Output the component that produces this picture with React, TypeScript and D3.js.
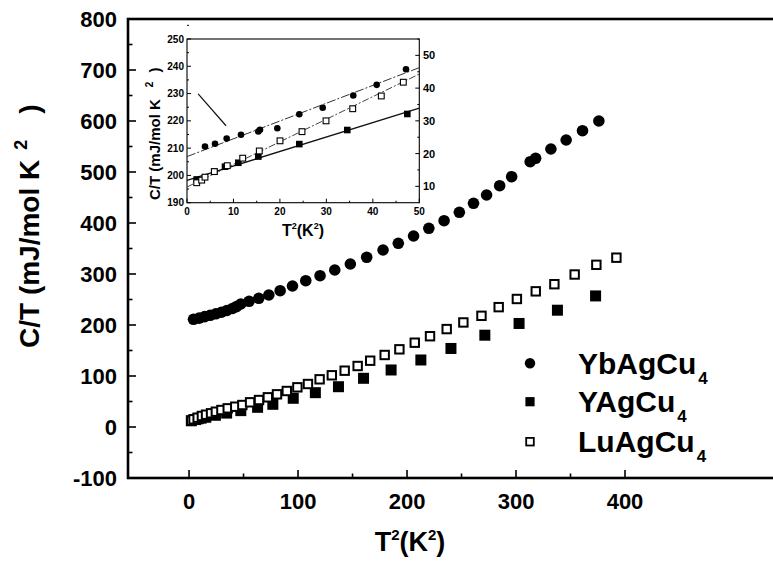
import * as d3 from 'd3';
import { useEffect, useRef } from 'react';

const W = 773;
const H = 569;
const FONT = '"Liberation Sans", Arial, Helvetica, sans-serif';

// main panel: C/T (mJ/mol K^2) against T^2 (K^2)
const YB_T2 = [4.1, 9.3, 14.4, 19.4, 24.6, 29.7, 34.8, 39.9, 43.5, 47.5, 55.1, 64.0, 73.2, 83.6, 94.9, 107.1, 120.2, 133.7, 148.0, 163.0, 178.0, 192.0, 206.0, 220.0, 234.0, 248.0, 261.0, 273.0, 285.0, 296.0, 313.0, 318.0, 332.0, 346.0, 361.0, 376.0];
const YB_CT = [211.2, 213.5, 216.5, 219.0, 222.0, 225.0, 228.5, 232.5, 236.0, 241.2, 246.5, 252.4, 258.8, 267.3, 276.5, 286.9, 296.7, 307.8, 319.6, 332.7, 347.1, 360.2, 374.5, 389.6, 404.5, 421.0, 438.6, 454.9, 473.1, 490.8, 520.2, 526.9, 545.1, 562.7, 581.0, 600.0];

const Y_T2 = [2.1, 6.0, 8.2, 11.1, 15.4, 24.2, 34.5, 47.5, 62.9, 76.9, 95.6, 115.9, 137.1, 160.1, 185.4, 212.7, 240.3, 271.4, 302.8, 338.0, 373.0];
const Y_CT = [12.2, 14.6, 16.1, 17.3, 19.1, 23.0, 27.3, 32.1, 38.6, 44.5, 56.3, 67.3, 79.0, 95.5, 111.8, 131.4, 154.0, 180.0, 203.0, 229.0, 257.0];

const LU_T2 = [2.0, 4.1, 7.9, 11.8, 15.6, 20.2, 24.6, 29.7, 35.5, 42.4, 48.9, 56.0, 64.2, 72.3, 80.7, 89.7, 99.4, 109.1, 119.8, 131.0, 142.8, 154.7, 166.2, 179.5, 193.0, 207.1, 221.1, 236.4, 251.7, 268.3, 284.1, 300.8, 318.1, 335.2, 353.8, 373.7, 392.1];
const LU_CT = [12.4, 15.1, 18.2, 21.6, 24.1, 26.9, 30.0, 33.3, 36.6, 39.8, 43.1, 48.4, 52.9, 58.2, 64.1, 70.6, 77.8, 84.3, 93.5, 101.4, 110.4, 119.6, 130.0, 141.2, 152.3, 165.3, 178.0, 192.0, 205.0, 218.0, 235.0, 251.0, 266.0, 280.0, 299.0, 318.0, 332.0];

// inset: Yb on the left axis, Y and Lu on the right axis
const IN_YB_T2 = [3.87, 6.03, 8.54, 11.62, 15.35, 15.71, 19.44, 24.17, 29.21, 35.79, 40.83, 47.14];
const IN_YB_CT = [210.6, 211.6, 213.5, 214.9, 216.1, 216.7, 217.3, 222.4, 224.8, 229.3, 233.2, 238.9];
const IN_Y_T2 = [2.09, 5.88, 8.18, 11.04, 15.35, 24.17, 34.5, 47.42];
const IN_Y_CT = [12.1, 14.5, 16.0, 17.2, 19.1, 22.9, 27.2, 32.1];
const IN_LU_T2 = [2.09, 3.16, 3.87, 5.88, 8.67, 11.99, 15.56, 20.02, 24.75, 29.92, 35.67, 41.82, 46.56];
const IN_LU_CT = [11.1, 11.9, 12.8, 14.5, 16.3, 18.6, 20.8, 23.9, 26.7, 30.0, 33.7, 37.6, 41.8];

// straight-line fits in the inset (values at T^2 = 0 and 50)
const FIT_T2 = [0, 50];
const FIT_YB = [206.9, 239.5];
const FIT_Y = [11.8, 33.9];
const FIT_LU = [9.8, 44.3];
// short pointer line in the inset (left-axis units)
const POINTER_T2 = [2.4, 8.4];
const POINTER_CT = [229.9, 218.2];

const X_TICKS = [0, 100, 200, 300, 400];
const X_MINOR = [50, 150, 250, 350];
const Y_TICKS = [-100, 0, 100, 200, 300, 400, 500, 600, 700, 800];
const Y_MINOR = [-50, 50, 150, 250, 350, 450, 550, 650, 750];
const IN_X_TICKS = [0, 10, 20, 30, 40, 50];
const IN_X_MINOR = [5, 15, 25, 35, 45];
const IN_YL_TICKS = [190, 200, 210, 220, 230, 240, 250];
const IN_YR_TICKS = [10, 20, 30, 40, 50];

const LEGEND_NAMES = ['YbAgCu', 'YAgCu', 'LuAgCu'];
const LEGEND_SUB = '4';

function zip(a: number[], b: number[]) {
    return a.map((v, i) => [v, b[i]] as [number, number]);
}

export default function App() {
    const svgRef = useRef<SVGSVGElement | null>(null);

    useEffect(() => {
        if (!svgRef.current) {
            return;
        }
        const svg = d3.select(svgRef.current);
        svg.selectAll('*').remove();

        // right edge of the frame lies outside the picture
        const x = d3.scaleLinear().domain([-56, 540]).range([128, 777.6]);
        const y = d3.scaleLinear().domain([-100, 800]).range([478, 19]);
        const x0 = x(-56);
        const x1 = x(540);

        svg.append('rect').attr('width', W).attr('height', H).attr('fill', '#fff');

        svg.append('rect')
            .attr('x', x0)
            .attr('y', y(800))
            .attr('width', x1 - x0)
            .attr('height', y(-100) - y(800))
            .attr('fill', 'none')
            .attr('stroke', '#000')
            .attr('stroke-width', 2.6);

        const ax = svg.append('g').attr('stroke', '#000').attr('stroke-width', 1.6);
        X_TICKS.forEach((t) => {
            ax.append('line').attr('x1', x(t)).attr('x2', x(t)).attr('y1', y(-100)).attr('y2', y(-100) - 8);
        });
        X_MINOR.forEach((t) => {
            ax.append('line').attr('x1', x(t)).attr('x2', x(t)).attr('y1', y(-100)).attr('y2', y(-100) - 4.5);
        });
        Y_TICKS.forEach((t) => {
            ax.append('line').attr('x1', x0).attr('x2', x0 + 8).attr('y1', y(t)).attr('y2', y(t));
        });
        Y_MINOR.forEach((t) => {
            ax.append('line').attr('x1', x0).attr('x2', x0 + 4.5).attr('y1', y(t)).attr('y2', y(t));
        });

        const lab = svg.append('g')
            .attr('font-family', FONT)
            .attr('font-weight', 'bold')
            .attr('font-size', 22)
            .attr('fill', '#000');
        X_TICKS.forEach((t) => {
            lab.append('text').attr('x', x(t)).attr('y', 509).attr('text-anchor', 'middle').text(String(t));
        });
        Y_TICKS.forEach((t) => {
            lab.append('text')
                .attr('x', 117)
                .attr('y', y(t))
                .attr('dy', '0.36em')
                .attr('text-anchor', 'end')
                .text(String(t));
        });

        // axis titles
        const xt = svg.append('text')
            .attr('x', 410)
            .attr('y', 551)
            .attr('text-anchor', 'middle')
            .attr('font-family', FONT)
            .attr('font-weight', 'bold')
            .attr('font-size', 27);
        xt.append('tspan').text('T');
        xt.append('tspan').attr('dy', -11).attr('font-size', 15).text('2');
        xt.append('tspan').attr('dy', 11).text('(K');
        xt.append('tspan').attr('dy', -11).attr('font-size', 15).text('2');
        xt.append('tspan').attr('dy', 11).text(')');

        const yt = svg.append('text')
            .attr('transform', 'translate(38.5,348) rotate(-90)')
            .attr('font-family', FONT)
            .attr('font-weight', 'bold')
            .attr('font-size', 28);
        yt.append('tspan').text('C/T (mJ/mol K');
        yt.append('tspan').attr('dx', 10).attr('dy', -12).attr('font-size', 18).text('2');
        yt.append('tspan').attr('dx', 26).attr('dy', 12).text(')');

        // main data: filled squares, then open squares, then circles
        const sq = 11;
        svg.append('g')
            .selectAll('rect')
            .data(zip(Y_T2, Y_CT))
            .join('rect')
            .attr('x', (d) => x(d[0]) - sq / 2)
            .attr('y', (d) => y(d[1]) - sq / 2)
            .attr('width', sq)
            .attr('height', sq)
            .attr('fill', '#000');

        svg.append('g')
            .selectAll('rect')
            .data(zip(LU_T2, LU_CT))
            .join('rect')
            .attr('x', (d) => x(d[0]) - 4.2)
            .attr('y', (d) => y(d[1]) - 4.2)
            .attr('width', 8.4)
            .attr('height', 8.4)
            .attr('fill', '#fff')
            .attr('stroke', '#000')
            .attr('stroke-width', 2);

        svg.append('g')
            .selectAll('circle')
            .data(zip(YB_T2, YB_CT))
            .join('circle')
            .attr('cx', (d) => x(d[0]))
            .attr('cy', (d) => y(d[1]))
            .attr('r', 5.8)
            .attr('fill', '#000');

        // legend
        const leg = svg.append('g');
        const rowsY = [363.3, 401.7, 441.7];
        const mx = 530;
        leg.append('circle').attr('cx', mx).attr('cy', rowsY[0]).attr('r', 5.2).attr('fill', '#000');
        leg.append('rect').attr('x', mx - 4.6).attr('y', rowsY[1] - 4.6).attr('width', 9.2).attr('height', 9.2).attr('fill', '#000');
        leg.append('rect')
            .attr('x', mx - 3.8)
            .attr('y', rowsY[2] - 3.8)
            .attr('width', 7.6)
            .attr('height', 7.6)
            .attr('fill', '#fff')
            .attr('stroke', '#000')
            .attr('stroke-width', 1.8);
        LEGEND_NAMES.forEach((name, i) => {
            const t = leg.append('text')
                .attr('x', 578)
                .attr('y', rowsY[i] + 10.5)
                .attr('font-family', FONT)
                .attr('font-weight', 'bold')
                .attr('font-size', 30);
            t.append('tspan').text(name);
            t.append('tspan').attr('dx', 2).attr('dy', 10).attr('font-size', 17).text(LEGEND_SUB);
        });

        // inset
        const ix = d3.scaleLinear().domain([0, 50]).range([187, 419.3]);
        const iyl = d3.scaleLinear().domain([190, 250]).range([202.7, 39]);
        const iyr = d3.scaleLinear().domain([5, 55]).range([202.7, 39]);

        svg.append('rect')
            .attr('x', ix(0))
            .attr('y', iyl(250))
            .attr('width', ix(50) - ix(0))
            .attr('height', iyl(190) - iyl(250))
            .attr('fill', '#fff')
            .attr('stroke', '#000')
            .attr('stroke-width', 1.1);

        const it = svg.append('g').attr('stroke', '#000').attr('stroke-width', 1);
        IN_X_TICKS.forEach((t) => {
            it.append('line').attr('x1', ix(t)).attr('x2', ix(t)).attr('y1', iyl(190)).attr('y2', iyl(190) - 4);
        });
        IN_X_MINOR.forEach((t) => {
            it.append('line').attr('x1', ix(t)).attr('x2', ix(t)).attr('y1', iyl(190)).attr('y2', iyl(190) - 2);
        });
        IN_YL_TICKS.forEach((t) => {
            it.append('line').attr('x1', ix(0)).attr('x2', ix(0) + 4).attr('y1', iyl(t)).attr('y2', iyl(t));
            it.append('line').attr('x1', ix(0)).attr('x2', ix(0) + 2).attr('y1', iyl(t + 5)).attr('y2', iyl(t + 5));
        });
        IN_YR_TICKS.forEach((t) => {
            it.append('line').attr('x1', ix(50)).attr('x2', ix(50) - 4).attr('y1', iyr(t)).attr('y2', iyr(t));
            it.append('line').attr('x1', ix(50)).attr('x2', ix(50) - 2).attr('y1', iyr(t + 5)).attr('y2', iyr(t + 5));
        });

        const il = svg.append('g')
            .attr('font-family', FONT)
            .attr('font-weight', 'bold')
            .attr('fill', '#000');
        IN_X_TICKS.forEach((t) => {
            il.append('text').attr('x', ix(t)).attr('y', 215).attr('text-anchor', 'middle').attr('font-size', 10).text(String(t));
        });
        IN_YL_TICKS.forEach((t) => {
            il.append('text')
                .attr('x', 184)
                .attr('y', iyl(t))
                .attr('dy', '0.36em')
                .attr('text-anchor', 'end')
                .attr('font-size', 10)
                .text(String(t));
        });
        IN_YR_TICKS.forEach((t) => {
            il.append('text')
                .attr('x', 423)
                .attr('y', iyr(t))
                .attr('dy', '0.36em')
                .attr('font-size', 11)
                .text(String(t));
        });

        const ixt = svg.append('text')
            .attr('x', 303)
            .attr('y', 236)
            .attr('text-anchor', 'middle')
            .attr('font-family', FONT)
            .attr('font-weight', 'bold')
            .attr('font-size', 16);
        ixt.append('tspan').text('T');
        ixt.append('tspan').attr('dy', -7).attr('font-size', 9).text('2');
        ixt.append('tspan').attr('dy', 7).text('(K');
        ixt.append('tspan').attr('dy', -7).attr('font-size', 9).text('2');
        ixt.append('tspan').attr('dy', 7).text(')');

        const iyt = svg.append('text')
            .attr('transform', 'translate(159.5,200) rotate(-90)')
            .attr('font-family', FONT)
            .attr('font-weight', 'bold')
            .attr('font-size', 15);
        iyt.append('tspan').text('C/T (mJ/mol K');
        iyt.append('tspan').attr('dx', 12).attr('dy', -7).attr('font-size', 10).text('2');
        iyt.append('tspan').attr('dx', 9).attr('dy', 7).text(')');

        // fit lines
        const fitLine = (yScale: d3.ScaleLinear<number, number>, vals: number[]) =>
            d3.line<number>()
                .x((t) => ix(t))
                .y((_, i) => yScale(vals[i]))(FIT_T2);
        svg.append('path').attr('d', fitLine(iyl, FIT_YB)).attr('fill', 'none')
            .attr('stroke', '#333').attr('stroke-width', 1).attr('stroke-dasharray', '9,2,2,2');
        svg.append('path').attr('d', fitLine(iyr, FIT_LU)).attr('fill', 'none')
            .attr('stroke', '#444').attr('stroke-width', 1).attr('stroke-dasharray', '7,2,2,2');
        svg.append('path').attr('d', fitLine(iyr, FIT_Y)).attr('fill', 'none')
            .attr('stroke', '#111').attr('stroke-width', 1.4);

        svg.append('path')
            .attr('d', d3.line<number>().x((t) => ix(t)).y((_, i) => iyl(POINTER_CT[i]))(POINTER_T2))
            .attr('stroke', '#111')
            .attr('stroke-width', 1.2)
            .attr('fill', 'none');

        svg.append('g')
            .selectAll('rect')
            .data(zip(IN_Y_T2, IN_Y_CT))
            .join('rect')
            .attr('x', (d) => ix(d[0]) - 3.3)
            .attr('y', (d) => iyr(d[1]) - 3.3)
            .attr('width', 6.6)
            .attr('height', 6.6)
            .attr('fill', '#000');

        svg.append('g')
            .selectAll('rect')
            .data(zip(IN_LU_T2, IN_LU_CT))
            .join('rect')
            .attr('x', (d) => ix(d[0]) - 2.9)
            .attr('y', (d) => iyr(d[1]) - 2.9)
            .attr('width', 5.8)
            .attr('height', 5.8)
            .attr('fill', '#fff')
            .attr('stroke', '#000')
            .attr('stroke-width', 1.1);

        svg.append('g')
            .selectAll('circle')
            .data(zip(IN_YB_T2, IN_YB_CT))
            .join('circle')
            .attr('cx', (d) => ix(d[0]))
            .attr('cy', (d) => iyl(d[1]))
            .attr('r', 3.3)
            .attr('fill', '#000');
    }, []);

    return (
        <div style={{ position: 'absolute', left: 0, top: 0 }}>
            <svg ref={svgRef} width={W} height={H} style={{ display: 'block' }} />
        </div>
    );
}
